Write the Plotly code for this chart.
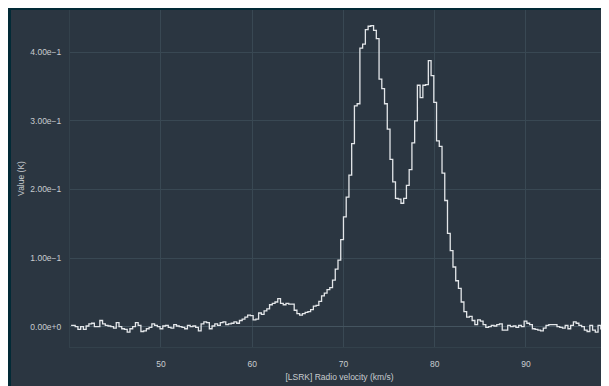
import plotly.graph_objects as go

# spectrum: channel centres start at 40.15 km/s, 0.3 km/s wide
v_start = 40.15
v_width = 0.3

# brightness per channel (K)
t_base_left = [
    .002, .002, 0, -.004, 0, -.004, .001, .004, .005, 0,
    0, .009, .004, .002, .001, 0, -.002, .006, 0, -.003,
    -.004, -.008, -.003, 0, .006, .002, -.007, -.006, -.003, -.001,
    .004, .002, 0, -.003, .001, .002, -.001, -.002, .003, .001,
    0, -.001, -.003, .002, 0, .001, -.001, -.006,
]
t_wing = [
    .004, .007, .006, -.003, .001, .004, .002, .006, .007, .003,
    .004, .005, .007, .005, .009, .011, .014, .017, .016, .010,
    .011, .020, .018, .023, .026, .032, .034, .036, .041, .034,
    .032, .034, .033, .033, .024, .019, .017, .019, .021, .022,
    .025, .030, .031, .037, .045, .049, .054,
]
t_peaks = [
    .057, .068, .084, .097, .127, .160, .189, .221, .267, .322,
    .325, .406, .412, .433, .438, .439, .432, .420, .361, .347,
    .325, .288, .244, .211, .187, .186, .180, .187, .206, .229,
    .268, .300, .352, .334, .352, .353, .388, .366, .327, .271,
    .263, .224, .184, .136, .111, .087, .067, .056, .036, .022,
    .014,
]
t_base_right = [
    .015, .009, .003, .010, .008, .003, -.001, 0, .002, .001,
    .003, .004, -.005, -.005, .002, 0, .001, -.001, .002, 0,
    .008, .005, .003, -.003, -.004, -.005, -.006, -.002, .002, .003,
    .003, .003, 0, -.001, -.002, .002, -.003, .002, .007, .005,
    .002, 0, -.005, -.007, .002, -.005, -.008, .002, -.003, 0,
    0, -.001,
]

temps = t_base_left + t_wing + t_peaks + t_base_right
velocity = [round(v_start + v_width * i, 3) for i in range(len(temps))]

y_ticks = [0, 0.1, 0.2, 0.3, 0.4]

outer_bg = '#022a36'
panel_bg = '#2b3641'
grid_col = '#394853'
text_col = '#c8ccd0'
txt_size = 8.5

fig = go.Figure()
fig.add_trace(go.Scatter(
    x=velocity, y=temps,
    mode='lines',
    line={'shape': 'hvh', 'color': '#e3e6e9', 'width': 1.3},
    showlegend=False,
))

fig.update_xaxes(
    title_text='[LSRK] Radio velocity (km/s)',
    title_font_size=txt_size,
    title_standoff=5,
    range=[40.03, 99.1],
    dtick=10,
    gridcolor=grid_col,
    zeroline=False,
    showline=True, linecolor='#33414b', mirror=True,
    ticklabelstandoff=9,
    automargin=False,
)
fig.update_yaxes(
    title_text='Value (K)',
    title_font_size=txt_size,
    title_standoff=4,
    range=[-0.0296, 0.4617],
    tickvals=y_ticks,
    tickformat='.2e',
    gridcolor=grid_col,
    zeroline=True, zerolinecolor='#44545f', zerolinewidth=1,
    showline=True, linecolor='#33414b', mirror=True,
    ticklabelstandoff=6,
    automargin=False,
)

# thin dark page strip above and left of the panel
fig.add_shape(type='rect', xref='paper', yref='paper',
              x0=-62 / 539, x1=-59 / 539, y0=-0.2, y1=1.01,
              fillcolor=outer_bg, line_width=0, layer='above')
fig.add_shape(type='rect', xref='paper', yref='paper',
              x0=-62 / 539, x1=1.02, y0=1.0, y1=1.01,
              fillcolor=outer_bg, line_width=0, layer='above')

fig.update_layout(
    width=609, height=386,
    margin={'l': 62, 'r': 8, 't': 2, 'b': 47},
    paper_bgcolor=panel_bg,
    plot_bgcolor=panel_bg,
    font={'family': 'Liberation Sans, Arial, sans-serif', 'size': txt_size, 'color': text_col},
)

fig.write_html('out.html')
